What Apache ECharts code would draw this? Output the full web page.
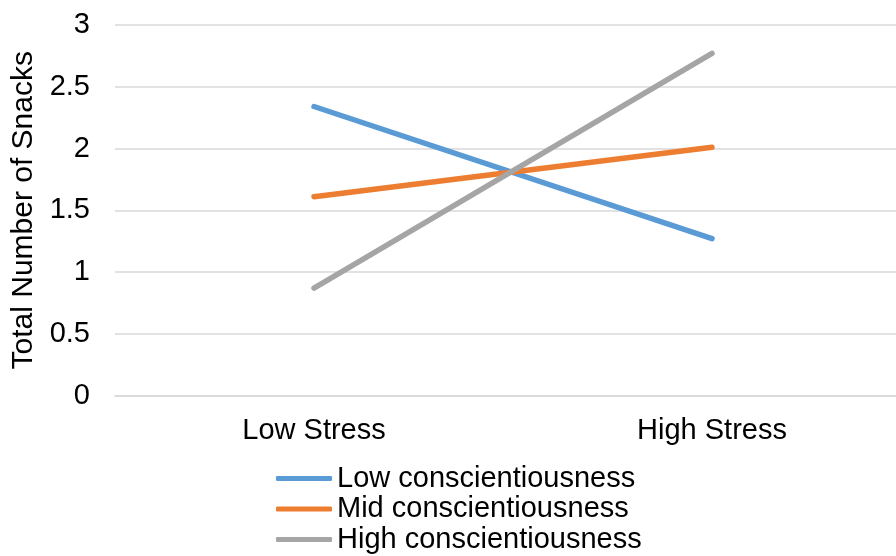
<!DOCTYPE html>
<html>
<head>
<meta charset="utf-8">
<script src="https://cdn.jsdelivr.net/npm/echarts@6/dist/echarts.min.js"></script>
<style>
  html, body { margin: 0; padding: 0; background: #fff; }
  #chart { width: 896px; height: 556px; }
</style>
</head>
<body>
<div id="chart"></div>
<script>
// Stress condition on the x axis
const categories = ['Low Stress', 'High Stress'];

// Mean snack counts per conscientiousness group
const lowConscientiousness = [2.34, 1.27];
const midConscientiousness = [1.61, 2.01];
const highConscientiousness = [0.87, 2.77];

const seriesNames = ['Low conscientiousness', 'Mid conscientiousness', 'High conscientiousness'];
const seriesColors = ['#5B9BD5', '#ED7D31', '#A5A5A5'];
const seriesValues = [lowConscientiousness, midConscientiousness, highConscientiousness];

const FONT = '"Liberation Sans", Arial, sans-serif';
const chart = echarts.init(document.getElementById('chart'), null, { renderer: 'canvas' });

chart.setOption({
  animation: false,
  backgroundColor: '#ffffff',
  grid: {
    left: 115, right: -15, top: 25, bottom: 160.5,
    containLabel: false,
    outerBoundsMode: 'none'
  },
  legend: {
    orient: 'vertical',
    left: 276,
    top: 464,
    height: 100,
    padding: 0,
    itemWidth: 56,
    itemHeight: 5,
    itemGap: 1.5,
    icon: 'roundRect',
    textStyle: { fontFamily: FONT, fontSize: 29, color: '#000' },
    data: seriesNames
  },
  xAxis: {
    type: 'category',
    data: categories,
    boundaryGap: true,
    axisLine: { show: true, lineStyle: { color: '#d9d9d9', width: 1.5 } },
    axisTick: { show: false },
    axisLabel: { fontFamily: FONT, fontSize: 29, color: '#000', margin: 21 }
  },
  yAxis: {
    type: 'value',
    min: 0,
    max: 3,
    interval: 0.5,
    name: 'Total Number of Snacks',
    nameLocation: 'middle',
    nameGap: 76,
    nameTextStyle: { fontFamily: FONT, fontSize: 30, color: '#000' },
    axisLine: { show: false },
    axisTick: { show: false },
    axisLabel: { fontFamily: FONT, fontSize: 29, color: '#000', margin: 25 },
    splitLine: { lineStyle: { color: '#d9d9d9', width: 1.5 } }
  },
  series: seriesValues.map((vals, i) => ({
    name: seriesNames[i],
    type: 'line',
    data: vals,
    symbol: 'none',
    color: seriesColors[i],
    lineStyle: { width: 5.5, color: seriesColors[i], cap: 'round' },
    itemStyle: { color: seriesColors[i] }
  }))
});
</script>
</body>
</html>
